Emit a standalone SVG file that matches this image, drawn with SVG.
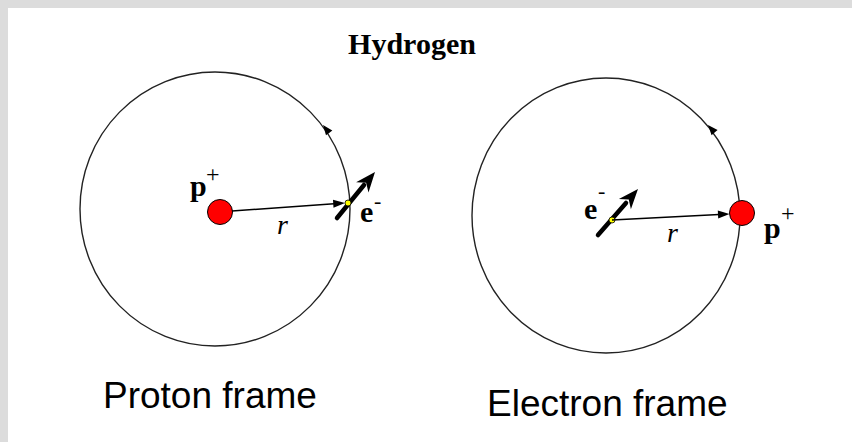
<svg xmlns="http://www.w3.org/2000/svg" width="852" height="442" viewBox="0 0 852 442">
<style>
.orbit{fill:none;stroke:#222;stroke-width:1.4}
.nuc{fill:#ff0000;stroke:#000;stroke-width:1}
.dot{fill:#ffff00;stroke:#000;stroke-width:0.8}
.rline{stroke:#000;stroke-width:1.5;fill:none}
.spin{stroke:#000;stroke-width:4.5;fill:none;stroke-linecap:round}
.head{fill:#000}
.lbl{font-family:"Liberation Serif",serif;font-weight:bold;fill:#000}
.sup{font-family:"Liberation Serif",serif;fill:#000}
.it{font-family:"Liberation Serif",serif;font-style:italic;fill:#000}
.cap{font-family:"Liberation Sans",Arial,sans-serif;fill:#000}
</style>
<rect x="0" y="0" width="852" height="442" fill="#dcdcdc"/>
<rect x="8" y="8" width="844" height="434" fill="#ffffff"/>
<text class="lbl" x="412" y="54" font-size="30" text-anchor="middle">Hydrogen</text>

<g id="proton-frame">
  <ellipse class="orbit" cx="215" cy="209" rx="135" ry="137"/>
  <polygon class="head" points="323,125 332.3,130.4 329.1,132.9 326,135.3"/>
  <g id="pf-proton">
    <circle class="nuc" cx="220" cy="212" r="12.5"/>
    <text class="lbl" x="190" y="196" font-size="30">p</text>
    <text class="sup" x="206" y="182" font-size="24">+</text>
  </g>
  <g id="pf-electron">
    <line class="spin" x1="337" y1="218" x2="364" y2="185"/>
    <polygon class="head" points="375,172 368.5,192.5 366.1,182.8 356.1,182.3"/>
    <circle class="dot" cx="348" cy="203" r="3"/>
    <text class="lbl" x="360" y="222" font-size="30">e</text>
    <text class="sup" x="374" y="208" font-size="22">-</text>
  </g>
  <g id="pf-connectors">
    <line class="rline" x1="232" y1="211" x2="334" y2="203.8"/>
    <polygon class="head" points="345,203 333.5,207.8 333,199.8"/>
    <text class="it" x="277" y="234" font-size="28">r</text>
  </g>
</g>

<g id="electron-frame">
  <ellipse class="orbit" cx="606" cy="215.5" rx="134" ry="137.5"/>
  <polygon class="head" points="708,125 717.6,129.9 714.6,132.5 711.6,135.2"/>
  <g id="ef-electron">
    <line class="spin" x1="598" y1="235" x2="626" y2="203"/>
    <polygon class="head" points="638,189 630.9,209.3 628.8,199.6 618.9,198.9"/>
    <circle class="dot" cx="612" cy="220" r="3"/>
    <text class="lbl" x="584" y="219" font-size="30">e</text>
    <text class="sup" x="598" y="198" font-size="22">-</text>
  </g>
  <g id="ef-proton">
    <circle class="nuc" cx="742" cy="213" r="12.5"/>
    <text class="lbl" x="764" y="238" font-size="30">p</text>
    <text class="sup" x="781" y="221" font-size="24">+</text>
  </g>
  <g id="ef-connectors">
    <line class="rline" x1="612" y1="220" x2="719" y2="214.5"/>
    <polygon class="head" points="729.5,214 718.2,218.6 717.8,210.6"/>
    <text class="it" x="667" y="242" font-size="28">r</text>
  </g>
</g>

<text class="cap" x="103" y="408" font-size="37">Proton frame</text>
<text class="cap" x="487" y="416" font-size="37">Electron frame</text>
</svg>
